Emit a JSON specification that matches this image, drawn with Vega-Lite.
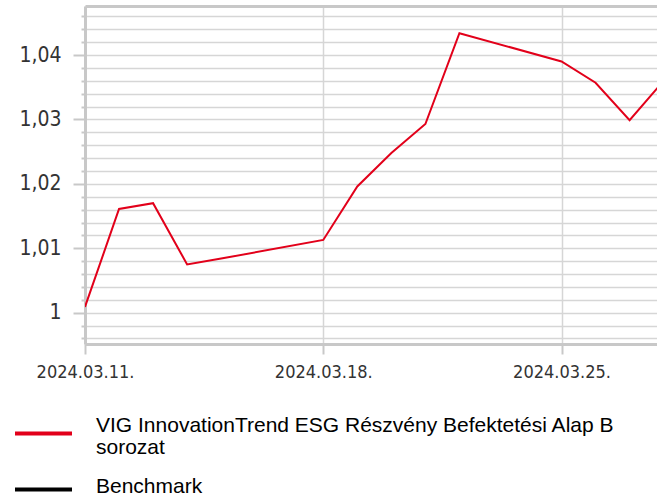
{
  "$schema": "https://vega.github.io/schema/vega-lite/v6.json",
  "width": 572,
  "height": 338,
  "autosize": {"type": "none"},
  "padding": {"left": 85, "top": 6, "right": 0, "bottom": 153},
  "background": "white",
  "config": {"view": {"stroke": null}},
  "data": {
    "values": [
      {"date": "2024-03-11", "value": 1.0009, "series": "VIG InnovationTrend ESG Részvény Befektetési Alap B sorozat"},
      {"date": "2024-03-12", "value": 1.0161, "series": "VIG InnovationTrend ESG Részvény Befektetési Alap B sorozat"},
      {"date": "2024-03-13", "value": 1.0170, "series": "VIG InnovationTrend ESG Részvény Befektetési Alap B sorozat"},
      {"date": "2024-03-14", "value": 1.0075, "series": "VIG InnovationTrend ESG Részvény Befektetési Alap B sorozat"},
      {"date": "2024-03-15", "value": 1.0084, "series": "VIG InnovationTrend ESG Részvény Befektetési Alap B sorozat"},
      {"date": "2024-03-18", "value": 1.0113, "series": "VIG InnovationTrend ESG Részvény Befektetési Alap B sorozat"},
      {"date": "2024-03-19", "value": 1.0196, "series": "VIG InnovationTrend ESG Részvény Befektetési Alap B sorozat"},
      {"date": "2024-03-20", "value": 1.0248, "series": "VIG InnovationTrend ESG Részvény Befektetési Alap B sorozat"},
      {"date": "2024-03-21", "value": 1.0293, "series": "VIG InnovationTrend ESG Részvény Befektetési Alap B sorozat"},
      {"date": "2024-03-22", "value": 1.0434, "series": "VIG InnovationTrend ESG Részvény Befektetési Alap B sorozat"},
      {"date": "2024-03-25", "value": 1.0390, "series": "VIG InnovationTrend ESG Részvény Befektetési Alap B sorozat"},
      {"date": "2024-03-26", "value": 1.0357, "series": "VIG InnovationTrend ESG Részvény Befektetési Alap B sorozat"},
      {"date": "2024-03-27", "value": 1.0299, "series": "VIG InnovationTrend ESG Részvény Befektetési Alap B sorozat"},
      {"date": "2024-03-28", "value": 1.0360, "series": "VIG InnovationTrend ESG Részvény Befektetési Alap B sorozat"}
    ]
  },
  "mark": {"type": "line", "clip": true, "strokeWidth": 2},
  "encoding": {
    "x": {
      "field": "date",
      "type": "temporal",
      "scale": {
        "type": "utc",
        "domain": [
          {"year": 2024, "month": 3, "date": 11, "utc": true},
          {"year": 2024, "month": 3, "date": 27, "hours": 19, "minutes": 19, "utc": true}
        ]
      },
      "axis": {
        "title": null,
        "values": [
          {"year": 2024, "month": 3, "date": 11, "utc": true},
          {"year": 2024, "month": 3, "date": 18, "utc": true},
          {"year": 2024, "month": 3, "date": 25, "utc": true}
        ],
        "labelExpr": "utcFormat(datum.value, '%Y.%m.%d.')",
        "grid": true,
        "gridColor": "#d6d6d6",
        "gridWidth": 1.5,
        "tickSize": 10,
        "tickColor": "#c8c8c8",
        "tickWidth": 2,
        "domainColor": "#c8c8c8",
        "domainWidth": 3,
        "labelFont": "DejaVu Sans Condensed",
        "labelFontSize": 18,
        "labelColor": "#333333",
        "labelPadding": 9,
        "labelFlush": false,
        "labelOverlap": false
      }
    },
    "y": {
      "field": "value",
      "type": "quantitative",
      "scale": {"domain": [0.99514, 1.04762], "zero": false, "nice": false},
      "axis": {
        "title": null,
        "values": [0.996, 0.998, 1.0, 1.002, 1.004, 1.006, 1.008, 1.01, 1.012, 1.014, 1.016, 1.018, 1.02, 1.022, 1.024, 1.026, 1.028, 1.03, 1.032, 1.034, 1.036, 1.038, 1.04, 1.042, 1.044, 1.046, 1.04762],
        "labelExpr": "abs(datum.value*100 - round(datum.value*100)) < 0.001 ? replace(format(datum.value, '.2~f'), '.', ',') : ''",
        "labelOverlap": false,
        "tickSize": {
          "condition": [
            {"test": "datum.value > 1.047", "value": 0},
            {"test": "abs(datum.value*100 - round(datum.value*100)) < 0.001", "value": 12}
          ],
          "value": 4
        },
        "gridColor": {"condition": {"test": "datum.value > 1.047", "value": "#c8c8c8"}, "value": "#d6d6d6"},
        "gridWidth": {"condition": {"test": "datum.value > 1.047", "value": 3}, "value": 1.5},
        "tickColor": "#c8c8c8",
        "tickWidth": 2,
        "domainColor": "#c8c8c8",
        "domainWidth": 3,
        "labelFont": "DejaVu Sans Condensed",
        "labelFontSize": 21,
        "labelColor": "#333333",
        "labelPadding": 12
      }
    },
    "color": {
      "field": "series",
      "type": "nominal",
      "scale": {
        "domain": ["VIG InnovationTrend ESG Részvény Befektetési Alap B sorozat", "Benchmark"],
        "range": ["#e2001a", "#000000"]
      },
      "legend": {
        "title": null,
        "orient": "none",
        "legendX": -72,
        "legendY": 397,
        "direction": "vertical",
        "padding": 0,
        "symbolType": "stroke",
        "symbolSize": 3249,
        "symbolStrokeWidth": 4,
        "labelFont": "Liberation Sans",
        "labelFontSize": 21,
        "labelColor": "#000000",
        "labelLimit": 0,
        "labelOffset": 22,
        "rowPadding": 1,
        "labelExpr": "datum.label == 'VIG InnovationTrend ESG Részvény Befektetési Alap B sorozat' ? ['VIG InnovationTrend ESG Részvény Befektetési Alap B', 'sorozat'] : datum.label",
        "encode": {"labels": {"update": {"lineHeight": {"value": 22}, "dy": {"signal": "datum.value == 'Benchmark' ? -3 : -8"}}}}
      }
    }
  }
}
